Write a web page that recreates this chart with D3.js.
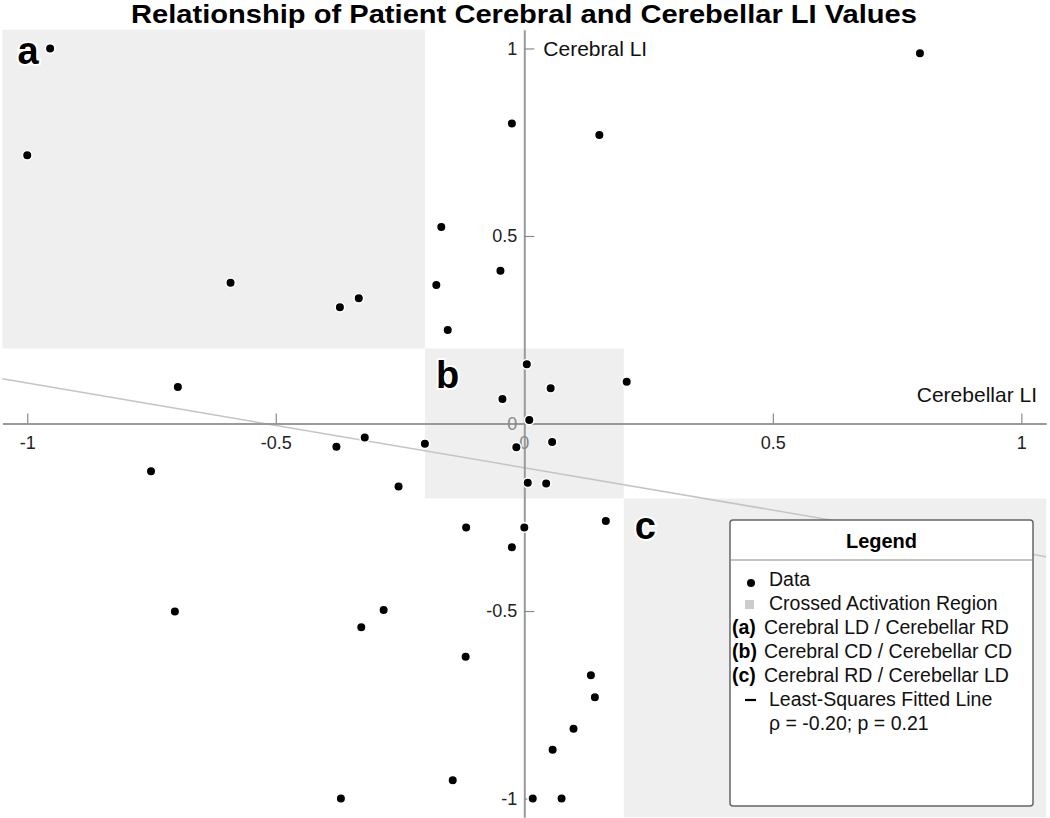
<!DOCTYPE html>
<html><head><meta charset="utf-8">
<script src="https://cdn.jsdelivr.net/npm/d3@7"></script>
<style>
body{margin:0;background:#fff}
svg{display:block;font-family:"Liberation Sans",Arial,Helvetica,sans-serif}
</style>
</head><body>
<svg id="chart" width="1050" height="818"></svg>
<script>
// ---- data ----
const cerebellarLI = [-0.954,-1.0,0.796,-0.025,0.151,-0.167,-0.048,-0.177,-0.154,-0.591,-0.333,-0.371,
  0.005,0.206,0.053,-0.044,0.010,-0.697,-0.200,-0.016,0.056,-0.378,-0.321,-0.751,-0.253,0.007,0.044,
  -0.117,0.000,0.164,-0.025,-0.703,-0.283,-0.328,-0.118,0.134,0.142,0.099,0.057,-0.144,-0.369,0.017,0.075];
const cerebralLI = [1.0,0.715,0.987,0.80,0.769,0.524,0.407,0.369,0.249,0.375,0.334,0.310,
  0.158,0.111,0.094,0.065,0.009,0.097,-0.054,-0.063,-0.049,-0.062,-0.037,-0.127,-0.168,-0.158,-0.160,
  -0.277,-0.277,-0.260,-0.330,-0.501,-0.497,-0.543,-0.622,-0.671,-0.730,-0.814,-0.870,-0.951,-1.0,-1.0,-1.0];
const xTicks = [-1,-0.5,0.5,1];
const yTicks = [-1,-0.5,0.5,1];
const regionLabels = ["a","b","c"];
const regionX = [[-1.05,-0.2],[-0.2,0.2],[0.2,1.05]];
const regionY = [[0.2,1.05],[-0.2,0.2],[-1.05,-0.2]];
const fitSlope = -0.226, fitIntercept = -0.118;
const legendKeys = ["dot","square","(a)","(b)","(c)","line",""];
const legendLabels = ["Data","Crossed Activation Region","Cerebral LD / Cerebellar RD",
  "Cerebral CD / Cerebellar CD","Cerebral RD / Cerebellar LD","Least-Squares Fitted Line","ρ = -0.20; p = 0.21"];
const titleText = "Relationship of Patient Cerebral and Cerebellar LI Values";

// ---- chart ----
const svg = d3.select("#chart");
const x = d3.scaleLinear().domain([-1.05,1.05]).range([2.4,1046.2]);
const y = d3.scaleLinear().domain([-1.05,1.05]).range([817.3,29.7]);

// shaded regions
svg.append("g").selectAll("rect").data(regionLabels).join("rect")
  .attr("x",(d,i)=>x(regionX[i][0])).attr("width",(d,i)=>x(regionX[i][1])-x(regionX[i][0]))
  .attr("y",(d,i)=>y(regionY[i][1])).attr("height",(d,i)=>y(regionY[i][0])-y(regionY[i][1]))
  .attr("fill","#efefef");

// fitted line
svg.append("line")
  .attr("x1",x(-1.05)).attr("y1",y(fitIntercept+fitSlope*-1.05))
  .attr("x2",x(1.05)).attr("y2",y(fitIntercept+fitSlope*1.05))
  .attr("stroke","#c4c4c4").attr("stroke-width",1.5);

// axes
const fmt = d=>String(d);
const gx = svg.append("g").attr("transform",`translate(0,${y(0)})`)
  .call(d3.axisBottom(x).tickValues(xTicks).tickFormat(fmt).tickSize(-10).tickSizeOuter(0).tickPadding(13));
const gy = svg.append("g").attr("transform",`translate(${x(0)},0)`)
  .call(d3.axisLeft(y).tickValues(yTicks).tickFormat(fmt).tickSize(-10).tickSizeOuter(0).tickPadding(7));
[gx,gy].forEach(g=>{
  g.select(".domain").attr("stroke","#9a9a9a").attr("stroke-width",2);
  g.selectAll(".tick line").attr("stroke","#8a8a8a").attr("stroke-width",1.2);
  g.selectAll(".tick text").attr("fill","#222").attr("font-size",18)
   .attr("font-family","'Liberation Sans',Arial,Helvetica,sans-serif");
});
// zero labels
svg.append("text").attr("x",x(0)-7).attr("y",y(0)).attr("dy","0.35em").attr("text-anchor","end")
  .attr("font-size",18).attr("fill","#888").text("0");
svg.append("text").attr("x",x(0)).attr("y",y(0)+13).attr("dy","0.71em").attr("text-anchor","middle")
  .attr("font-size",18).attr("fill","#888").text("0");

// axis labels
svg.append("text").attr("x",x(0)+19).attr("y",y(1)+8).attr("font-size",21).attr("fill","#111").text("Cerebral LI");
svg.append("text").attr("x",1037).attr("y",402).attr("text-anchor","end").attr("font-size",21).attr("fill","#111").text("Cerebellar LI");

// points
svg.append("g").selectAll("circle").data(cerebellarLI).join("circle")
  .attr("cx",d=>x(d)).attr("cy",(d,i)=>y(cerebralLI[i])).attr("r",4.8)
  .attr("fill","#000").attr("stroke","#fff").attr("stroke-width",1.6);

// region letters
svg.append("g").selectAll("text").data(regionLabels).join("text")
  .attr("x",(d,i)=>x(regionX[i][0])+(i===0?15:11))
  .attr("y",(d,i)=>y(regionY[i][1])+(i===0?34:40))
  .attr("font-size",38).attr("font-weight","bold").attr("fill","#000")
  .attr("stroke","#fff").attr("stroke-width",4).attr("paint-order","stroke")
  .text(d=>d);

// title
svg.append("text").attr("x",524).attr("y",23).attr("text-anchor","middle")
  .attr("font-size",25).attr("font-weight","bold").attr("fill","#000")
  .attr("textLength",786).attr("lengthAdjust","spacingAndGlyphs").text(titleText);

// legend
const lg = svg.append("g");
lg.append("rect").attr("x",730).attr("y",520).attr("width",303).attr("height",286).attr("rx",3)
  .attr("fill","#fff").attr("stroke","#666").attr("stroke-width",1.5);
lg.append("line").attr("x1",730).attr("x2",1033).attr("y1",560).attr("y2",560).attr("stroke","#888").attr("stroke-width",1.2);
lg.append("text").attr("x",881.5).attr("y",548).attr("text-anchor","middle").attr("font-size",20)
  .attr("font-weight","bold").attr("fill","#000").text("Legend");
const rowY = i=>586+i*24;
legendKeys.forEach((k,i)=>{
  const by = rowY(i);
  if(k==="dot") lg.append("circle").attr("cx",751).attr("cy",by-3).attr("r",4).attr("fill","#000");
  else if(k==="square") lg.append("rect").attr("x",745).attr("y",by-10).attr("width",9).attr("height",9).attr("fill","#ccc");
  else if(k==="line") lg.append("line").attr("x1",745).attr("x2",756).attr("y1",by-6).attr("y2",by-6).attr("stroke","#000").attr("stroke-width",2.2);
  else if(k) lg.append("text").attr("x",732).attr("y",by).attr("font-size",19.5).attr("font-weight","bold").attr("fill","#000").text(k);
  const tx = (k.startsWith("(")) ? 764 : 769;
  lg.append("text").attr("x",tx).attr("y",by).attr("font-size",19.5).attr("fill","#111").text(legendLabels[i]);
});
</script>
</body></html>
